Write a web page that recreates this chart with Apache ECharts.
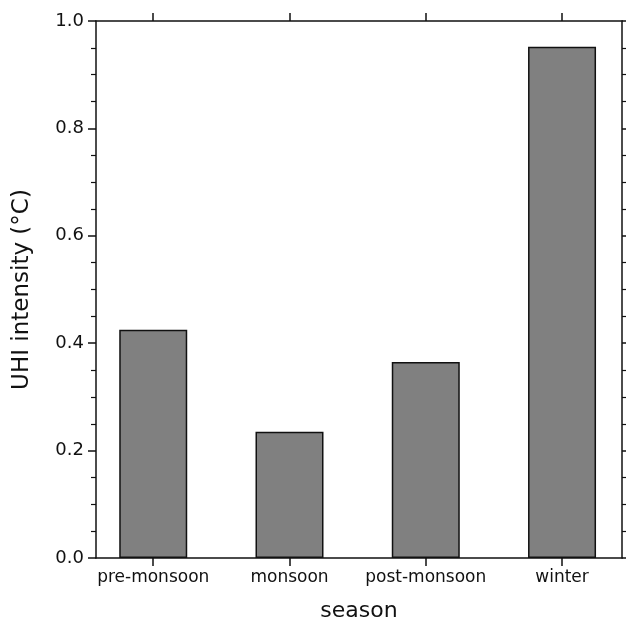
<!DOCTYPE html><html><head><meta charset="utf-8"><script src="https://cdn.jsdelivr.net/npm/echarts@6/dist/echarts.min.js"></script></head><body style="margin:0"><div id="c" style="width:626px;height:625px"></div><script>
const categories=['pre-monsoon','monsoon','post-monsoon','winter'];
const values=[0.425,0.235,0.365,0.952];
const pos=[0,1,2,3];
const F='DejaVu Sans';
const ax={onZero:false,lineStyle:{color:'#111',width:1.5}};
const ch=echarts.init(document.getElementById('c'));
const xBase={type:'value',min:-0.42,max:3.44,axisLine:{show:true,...ax},splitLine:{show:false},
 axisTick:{show:true,customValues:pos,length:8,lineStyle:{color:'#111',width:1.5}}};
const yBase={type:'value',min:0,max:1,interval:0.2,axisLine:{show:true,...ax},splitLine:{show:false},
 axisTick:{show:true,length:8,lineStyle:{color:'#111',width:1.5}},
 minorTick:{show:true,splitNumber:4,length:5,lineStyle:{color:'#111',width:1.2}}};
ch.setOption({animation:false,
grid:{left:96,right:4,top:21,bottom:67,outerBoundsMode:'none',containLabel:false},
xAxis:[{...xBase,position:'bottom',name:'season',nameLocation:'middle',nameGap:42,nameTextStyle:{fontFamily:F,fontSize:22,color:'#111'},
 axisLabel:{customValues:pos,formatter:v=>categories[Math.round(v)],fontFamily:F,fontSize:17,color:'#111',margin:11}},
 {...xBase,position:'top',axisLabel:{show:false}}],
yAxis:[{...yBase,position:'left',name:'UHI intensity (°C)',nameLocation:'middle',nameGap:62,nameTextStyle:{fontFamily:F,fontSize:23,color:'#111'},
 axisLabel:{formatter:v=>v.toFixed(1),fontFamily:F,fontSize:18,color:'#111',margin:12}},
 {...yBase,position:'right',axisLabel:{show:false}}],
series:[{type:'bar',barWidth:68,data:values.map((v,i)=>[pos[i],v]),itemStyle:{color:'#808080',borderColor:'#111',borderWidth:1.5}}]
});
</script></body></html>
